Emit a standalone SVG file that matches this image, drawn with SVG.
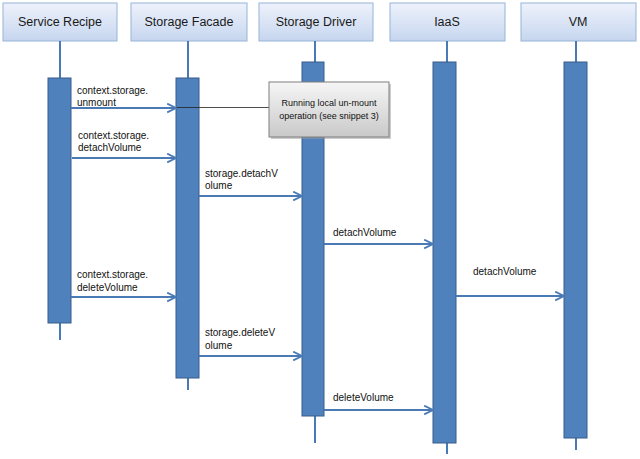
<svg xmlns="http://www.w3.org/2000/svg" width="640" height="459" viewBox="0 0 640 459">
<style>
.hdr{fill:url(#hg);stroke:#95b3d7;stroke-width:1}
.ht{font-family:"Liberation Sans",Arial,sans-serif;font-size:12.5px;fill:#1a1a1a;text-anchor:middle}
.life{stroke:#4a7ab5;stroke-width:2}
.bar{fill:#4f81bd;stroke:#385d8a;stroke-width:1}
.msg{stroke:#4a7ab5;stroke-width:2;fill:none;marker-end:url(#ah)}
.lt{font-family:"Liberation Sans",Arial,sans-serif;font-size:10px;fill:#111}
.nt{font-family:"Liberation Sans",Arial,sans-serif;font-size:9px;fill:#111;text-anchor:middle}
</style>
<defs>
<linearGradient id="hg" x1="0" y1="0" x2="0" y2="1">
<stop offset="0" stop-color="#eef2fb"/>
<stop offset="1" stop-color="#c6d6ef"/>
</linearGradient>
<linearGradient id="ng" x1="0" y1="0" x2="0" y2="1">
<stop offset="0" stop-color="#f6f6f6"/>
<stop offset="1" stop-color="#c9c9c9"/>
</linearGradient>
<marker id="ah" viewBox="0 0 10 10" refX="9" refY="5" markerWidth="5.5" markerHeight="5.5" orient="auto" markerUnits="strokeWidth">
<path d="M1,1 L9,5 L1,9" fill="none" stroke="#4a7ab5" stroke-width="1.6"/>
</marker>
</defs>
<rect width="640" height="459" fill="#ffffff"/>

<g id="service-recipe">
<rect class="hdr" x="3" y="3" width="114" height="38"/>
<text class="ht" x="60" y="26">Service Recipe</text>
<line class="life" x1="60" y1="41" x2="60" y2="340"/>
<rect class="bar" x="48" y="78" width="23" height="245"/>
</g>
<g id="storage-facade">
<rect class="hdr" x="131" y="3" width="116" height="38"/>
<text class="ht" x="189" y="26">Storage Facade</text>
<line class="life" x1="188" y1="41" x2="188" y2="390"/>
<rect class="bar" x="176" y="78" width="23" height="300"/>
</g>
<g id="storage-driver">
<rect class="hdr" x="259" y="3" width="114" height="38"/>
<text class="ht" x="316" y="26">Storage Driver</text>
<line class="life" x1="315" y1="41" x2="315" y2="443"/>
<rect class="bar" x="302" y="62" width="22" height="354"/>
</g>
<g id="iaas">
<rect class="hdr" x="390" y="3" width="115" height="38"/>
<text class="ht" x="447" y="26">IaaS</text>
<line class="life" x1="447" y1="41" x2="447" y2="454"/>
<rect class="bar" x="433" y="62" width="23" height="381"/>
</g>
<g id="vm">
<rect class="hdr" x="521" y="3" width="115" height="38"/>
<text class="ht" x="578" y="26">VM</text>
<line class="life" x1="576" y1="41" x2="576" y2="450"/>
<rect class="bar" x="564" y="62" width="23" height="376"/>
</g>

<g id="connectors">
<line x1="176" y1="107.5" x2="269" y2="107.5" stroke="#222" stroke-width="0.8"/>
<path class="msg" d="M71,108 H176"/>
<path class="msg" d="M72,158 H176"/>
<path class="msg" d="M199,196 H302"/>
<path class="msg" d="M324,244 H433"/>
<path class="msg" d="M456,296 H564"/>
<path class="msg" d="M71,297 H176"/>
<path class="msg" d="M199,356 H302"/>
<path class="msg" d="M324,410 H433"/>
</g>

<g id="labels">
<text class="lt" x="77" y="94">context.storage.</text>
<text class="lt" x="77" y="106">unmount</text>
<text class="lt" x="78" y="139">context.storage.</text>
<text class="lt" x="78" y="151">detachVolume</text>
<text class="lt" x="205" y="177">storage.detachV</text>
<text class="lt" x="205" y="189">olume</text>
<text class="lt" x="333" y="236">detachVolume</text>
<text class="lt" x="473" y="275">detachVolume</text>
<text class="lt" x="77" y="278">context.storage.</text>
<text class="lt" x="77" y="291">deleteVolume</text>
<text class="lt" x="205" y="336">storage.deleteV</text>
<text class="lt" x="205" y="349">olume</text>
<text class="lt" x="333" y="401">deleteVolume</text>
</g>

<g id="note">
<rect x="271" y="84" width="120" height="55" fill="#9a9a9a" opacity="0.5"/>
<rect x="269" y="82" width="120" height="55" fill="url(#ng)" stroke="#7f7f7f" stroke-width="1"/>
<text class="nt" x="329" y="106">Running local un-mount</text>
<text class="nt" x="329" y="119">operation (see snippet 3)</text>
</g>
</svg>
